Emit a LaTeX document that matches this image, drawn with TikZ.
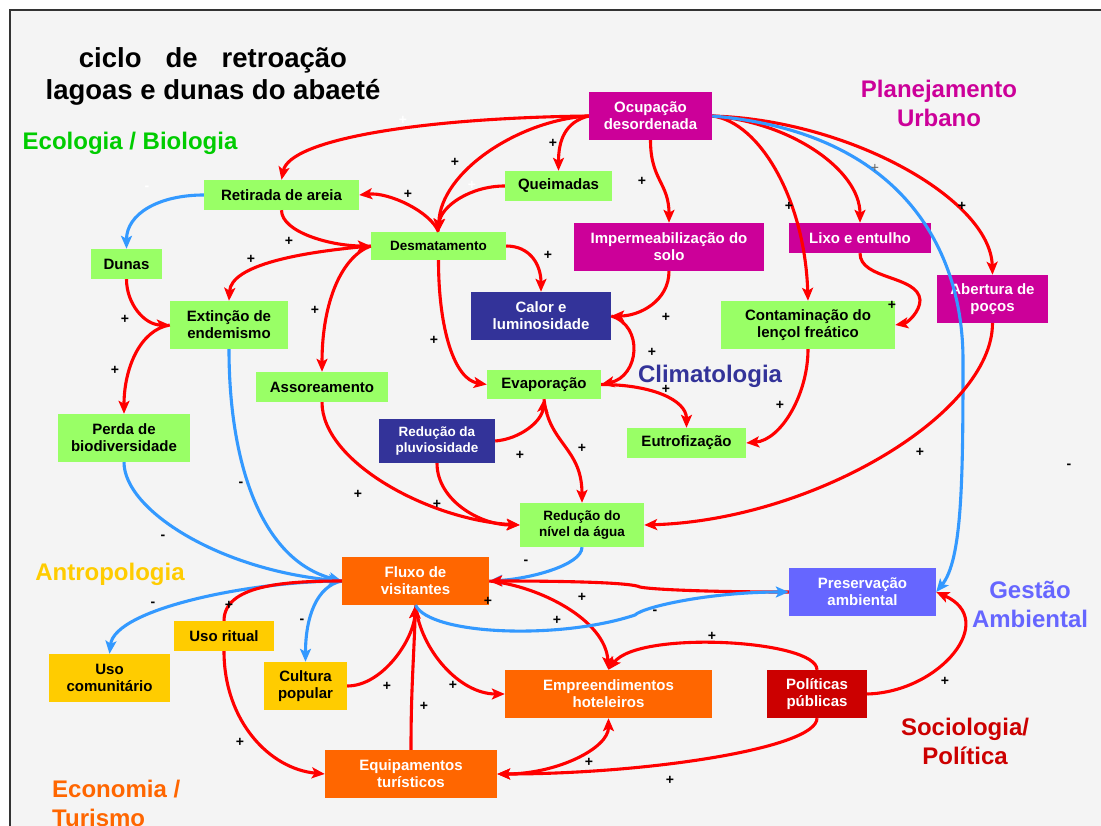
\documentclass[tikz,border=0pt]{standalone}
\usepackage{fontspec}
\setmainfont{Liberation Sans}
\usepackage{xcolor}
\usepackage{tikz}
\usetikzlibrary{arrows.meta}

\definecolor{boxgreen}{HTML}{99FF66}
\definecolor{boxmag}{HTML}{CC0099}
\definecolor{boxnavy}{HTML}{333399}
\definecolor{boxorange}{HTML}{FF6600}
\definecolor{boxyellow}{HTML}{FFCC00}
\definecolor{boxperi}{HTML}{6666FF}
\definecolor{boxdred}{HTML}{CC0000}
\definecolor{labgreen}{HTML}{00CC00}
\definecolor{arrred}{HTML}{FF0000}
\definecolor{arrblue}{HTML}{3399FF}
\definecolor{panel}{HTML}{F4F4F4}

\newcommand{\boxfont}{\fontsize{15}{17}\selectfont\bfseries}
\newcommand{\boxfontsm}{\fontsize{13.5}{16}\selectfont\bfseries}
\newcommand{\areafont}{\fontsize{24}{29}\selectfont\bfseries}
\newcommand{\titlefont}{\fontsize{27.5}{32}\selectfont\bfseries}
\newcommand{\signfont}{\fontsize{14}{14}\selectfont\bfseries}

\begin{document}
\begin{tikzpicture}[x=1pt, y=-1pt, >={Stealth[length=13pt,width=11pt,inset=3pt]},
	cbox/.style={rectangle, inner sep=0pt, align=center, font=\boxfont},
	eco/.style={fill=boxgreen, text=black},
	ecosm/.style={eco, font=\boxfontsm},
	urb/.style={fill=boxmag, text=white},
	clim/.style={fill=boxnavy, text=white},
	climsm/.style={clim, font=\boxfontsm},
	antro/.style={fill=boxyellow, text=black},
	econ/.style={fill=boxorange, text=white},
	gest/.style={fill=boxperi, text=white},
	soc/.style={fill=boxdred, text=white},
	redlink/.style={draw=arrred, line width=3.1pt, ->},
	bluelink/.style={draw=arrblue, line width=3.1pt, ->},
	sgn/.style={inner sep=0pt, font=\signfont},
	areatxt/.style={inner sep=0pt, align=center, font=\areafont}]
%frame
	\useasboundingbox (0,0) rectangle (1101,826);
	\fill[white] (0,0) rectangle (1101,826);
	\fill[panel] (10,10) rectangle (1101,826);
	\draw[black!80, line width=1.2pt] (10,826) -- (10,10) -- (1101,10);

%title and areas
	\node[inner sep=0pt, align=center, anchor=north, font=\titlefont] (title) at (213,47)
		{ciclo\hspace{24pt}de\hspace{24pt}retroação\\lagoas e dunas do abaeté};
	\node[areatxt, text=labgreen, anchor=north] (ecolab) at (130,132) {Ecologia / Biologia};
	\node[areatxt, text=boxmag, anchor=north] (urblab) at (939,80) {Planejamento\\Urbano};
	\node[areatxt, text=boxnavy, anchor=north] (climlab) at (710,365) {Climatologia};
	\node[areatxt, text=boxyellow, anchor=north] (antrolab) at (110,563) {Antropologia};
	\node[areatxt, text=boxperi, anchor=north] (gestlab) at (1030,581) {Gestão\\Ambiental};
	\node[areatxt, text=boxdred, anchor=north] (soclab) at (965,718) {Sociologia/\\Política};
	\node[areatxt, text=boxorange, align=left, anchor=north west] (econlab) at (52,780) {Economia /\\Turismo};

%boxes
	\foreach \xy/\name/\w/\h/\kind/\txt in {
		{(650.5,116)/ocup/123/48/urb/{Ocupação\\desordenada}},
		{(558.5,186)/queim/107/30/eco/{Queimadas}},
		{(281.5,195)/retir/155/30/eco/{Retirada de areia}},
		{(438.5,246)/desm/135/28/ecosm/{Desmatamento}},
		{(669,247)/imper/190/48/urb/{Impermeabilização do\\solo}},
		{(860,238)/lixo/142/30/urb/{Lixo e entulho}},
		{(126.5,264)/dunas/71/30/eco/{Dunas}},
		{(229,325)/extin/118/48/eco/{Extinção de\\endemismo}},
		{(541,316)/calor/140/48/clim/{Calor e\\luminosidade}},
		{(808,325)/conta/174/48/eco/{Contaminação do\\lençol freático}},
		{(992.5,299)/abert/111/48/urb/{Abertura de\\poços}},
		{(322,387)/assor/132/30/eco/{Assoreamento}},
		{(544,384.5)/evap/114/29/eco/{Evaporação}},
		{(124,438)/perda/132/48/eco/{Perda de\\biodiversidade}},
		{(437,441)/pluv/116/44/climsm/{Redução da\\pluviosidade}},
		{(686.5,443)/eutro/119/30/eco/{Eutrofização}},
		{(582,525)/reduc/124/44/ecosm/{Redução do\\nível da água}},
		{(415.5,581)/fluxo/147/48/econ/{Fluxo de\\visitantes}},
		{(862.5,592)/preserv/147/48/gest/{Preservação\\ambiental}},
		{(224,636)/ritual/100/30/antro/{Uso ritual}},
		{(109.5,678)/usocom/121/48/antro/{Uso\\comunitário}},
		{(305.5,686)/cultura/83/48/antro/{Cultura\\popular}},
		{(608.5,694)/empre/207/48/econ/{Empreendimentos\\hoteleiros}},
		{(817,694)/polit/100/48/soc/{Políticas\\públicas}},
		{(411,774)/equip/172/48/econ/{Equipamentos\\turísticos}}} {
		\node[cbox, \kind, minimum width=\w pt, minimum height=\h pt] (\name) at \xy {\txt};
	}

%from ocupacao
	\draw[redlink] (ocup.west) .. controls +(-170,2) and +(8,-40) .. (retir.north);
	\draw[redlink] (ocup.west) .. controls +(-24,6) and +(0,-30) .. (queim.north);
	\draw[redlink] (ocup.west) .. controls +(-70,4) and +(2,-60) .. (desm.north);
	\draw[redlink] (ocup.south) .. controls +(0,40) and +(0,-40) .. (imper.north);
	\draw[redlink] (ocup.east) .. controls +(48,6) and +(-3,-100) .. (conta.north);
	\draw[redlink] (ocup.east) .. controls +(78,6) and +(0,-53) .. (lixo.north);
	\draw[redlink] (ocup.east) .. controls +(138,4) and +(-2,-75) .. (abert.north);
	\draw[bluelink] (ocup.east) .. controls +(190,16) and +(0,-110) .. (963,360)
		.. controls +(0,120) and +(26,-32) .. (preserv.east);

%desmatamento
	\draw[redlink] (queim.west) .. controls +(-35,0) and +(2,-25) .. (desm.north);
	\draw[redlink] (desm.north) .. controls +(-8,-20) and +(30,-3) .. (retir.east);
	\draw[redlink] (retir.south) .. controls +(0,22) and +(-40,0) .. (desm.west);
	\draw[redlink] (desm.west) .. controls +(-70,6) and +(2,-36) .. (extin.north);
	\draw[redlink] (desm.west) .. controls +(-28,10) and +(0,-72) .. (assor.north);
	\draw[redlink] (desm.south) .. controls +(0,70) and +(-32,-5) .. (evap.west);
	\draw[redlink] (desm.east) .. controls +(24,0) and +(0,-27) .. (calor.north);

%clima
	\draw[redlink] (imper.south) .. controls +(0,30) and +(28,0) .. (calor.east);
	\draw[redlink] (calor.east) .. controls +(33,10) and +(38,-8) .. (evap.east);
	\draw[redlink] (evap.east) .. controls +(50,0) and +(0,-28) .. (eutro.north);
	\draw[redlink] (lixo.south) .. controls +(0,27) and +(-2,-25) .. (920,300)
		.. controls +(0,12) and +(12,-2) .. (conta.east);
	\draw[redlink] (conta.south) .. controls +(0,45) and +(35,-3) .. (eutro.east);
	\draw[redlink] (abert.south) .. controls +(0,90) and +(170,-5) .. (reduc.east);
	\draw[redlink] (pluv.east) .. controls +(25,-2) and +(-2,22) .. (evap.south);
	\draw[redlink] (evap.south) .. controls +(5,45) and +(0,-55) .. (reduc.north);
	\draw[redlink] (pluv.south) .. controls +(0,37) and +(-40,0) .. (reduc.west);
	\draw[redlink] (assor.south) .. controls +(0,60) and +(-90,-5) .. (reduc.west);

%ecologia
	\draw[bluelink] (retir.west) .. controls +(-45,0) and +(0,-35) .. (dunas.north);
	\draw[redlink] (dunas.south) .. controls +(0,25) and +(-25,0) .. (extin.west);
	\draw[redlink] (extin.west) .. controls +(-30,5) and +(0,-45) .. (perda.north);
	\draw[bluelink] (extin.south) .. controls +(0,111) and +(-82,-21) .. (fluxo.west);
	\draw[bluelink] (perda.south) .. controls +(0,48) and +(-122,-11) .. (fluxo.west);
	\draw[bluelink] (reduc.south) .. controls +(0,18) and +(40,-2) .. (fluxo.east);

%visitantes
	\draw[bluelink] (fluxo.west) .. controls +(-90,0) and +(5,-45) .. (usocom.north);
	\draw[bluelink] (fluxo.west) .. controls +(-25,5) and +(0,-45) .. (cultura.north);
	\draw[redlink, -] (ritual.north) .. controls +(0,-35) and +(-60,0) .. (fluxo.west);
	\draw[redlink] (ritual.south) .. controls +(0,70) and +(-55,-5) .. (equip.west);
	\draw[redlink] (cultura.east) .. controls +(35,0) and +(-2,35) .. (fluxo.south);
	\draw[redlink] (equip.north) .. controls +(0,-60) and +(-2,60) .. (fluxo.south);
	\draw[redlink] (fluxo.south) .. controls +(5,45) and +(-45,0) .. (empre.west);
	\draw[redlink] (fluxo.east) .. controls +(50,5) and +(-3,-50) .. (empre.north);
	\draw[redlink] (preserv.west) .. controls +(-90,0) and +(8,2) .. (640,587)
		.. controls +(-8,-4) and +(90,0) .. (fluxo.east);
	\draw[bluelink] (fluxo.south) .. controls +(15,30) and +(-75,25) .. (635,615)
		.. controls +(8,-8) and +(-80,0) .. (preserv.west);

%politicas
	\draw[redlink] (polit.north) .. controls +(0,-30) and +(30,-40) .. (empre.north);
	\draw[redlink] (polit.south) .. controls +(0,30) and +(150,0) .. (equip.east);
	\draw[redlink, <->] (equip.east) .. controls +(60,0) and +(0,30) .. (empre.south);
	\draw[redlink] (polit.east) .. controls +(73,-2) and +(63,28) .. (preserv.east);

%signs
	\foreach \xy/\s [count=\i] in {
		{(553,143)/+},{(455,162)/+},{(408,194)/+},{(642,181)/+},{(548,255)/+},
		{(666,317)/+},{(434,340)/+},{(652,352)/+},{(666,389)/+},{(789,206)/+},
		{(962,206)/+},{(892,305)/+},{(780,405)/+},{(920,452)/+},{(289,241)/+},
		{(251,259)/+},{(125,319)/+},{(315,310)/+},{(115,370)/+},{(358,494)/+},
		{(520,455)/+},{(582,448)/+},{(437,504)/+},{(229,605)/+},{(240,742)/+},
		{(387,686)/+},{(488,601)/+},{(557,620)/+},{(582,597)/+},{(453,685)/+},
		{(424,706)/+},{(589,762)/+},{(670,780)/+},{(712,636)/+},{(945,681)/+},
		{(241,484)/-},{(163,537)/-},{(526,562)/-},{(153,604)/-},{(302,621)/-},
		{(655,612)/-},{(1069,466)/-}} {
		\node[sgn] (s\i) at \xy {\s};
	}
	\node[sgn, white] (w1) at (403,120) {+};
	\node[sgn, white] (w2) at (147,188) {-};
	\node[sgn, white] (w3) at (472,185) {+};
	\node[sgn, black!60, font=\fontsize{14}{14}\selectfont] (g1) at (875,168) {+};

\end{tikzpicture}
\end{document}
